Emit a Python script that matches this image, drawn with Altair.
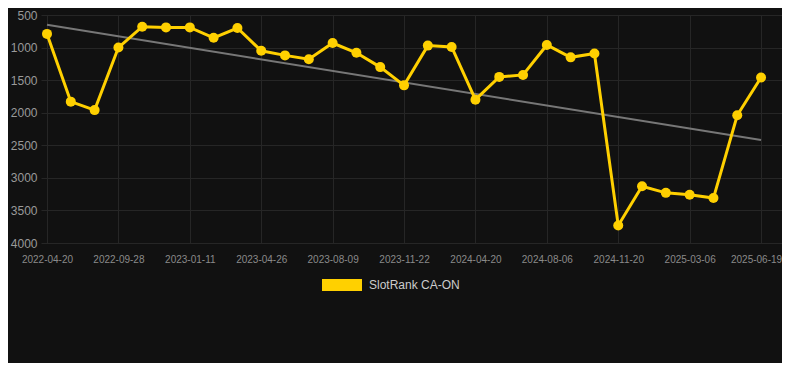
import altair as alt
import pandas as pd

TICK_LABELS = ["2022-04-20", "2022-09-28", "2023-01-11", "2023-04-26", "2023-08-09",
               "2023-11-22", "2024-04-20", "2024-08-06", "2024-11-20", "2025-03-06",
               "2025-06-19"]
RANK = [790, 1830, 1960, 1000, 680, 690, 690, 850, 700, 1050, 1120, 1180, 930, 1080,
        1300, 1580, 970, 990, 1800, 1450, 1420, 960, 1150, 1090, 3730, 3130, 3230,
        3260, 3310, 2040, 1460]
TREND = [650, 2420]
Y_TICKS = [500, 1000, 1500, 2000, 2500, 3000, 3500, 4000]
SERIES = "SlotRank CA-ON"

n = len(RANK)
df = pd.DataFrame({"idx": list(range(n)), "rank": RANK, "series": [SERIES] * n})
trend_df = pd.DataFrame({"idx": [0, n - 1], "rank": TREND})

last_tick = 3 * (len(TICK_LABELS) - 1)
label_expr = "[" + ",".join(f"'{d}'" for d in TICK_LABELS) + "][round(datum.value/3)]"

x_scale = alt.Scale(domain=[-0.252, 30.88], nice=False, zero=False)
y_scale = alt.Scale(domain=[500, 4000], reverse=True, nice=False, zero=False)

x_axis = alt.Axis(values=list(range(0, n, 3)), labelExpr=label_expr, title=None,
                  grid=True, gridColor="#262626", domain=False, ticks=False,
                  labelColor="#8a8a8a", labelFontSize=10, labelPadding=11,
                  labelFont="Liberation Sans", labelOverlap=False, tickCount=20,
                  labelOffset={"expr": f"datum.value == {last_tick} ? -5 : 0"})
y_axis = alt.Axis(values=Y_TICKS, format="d", title=None, grid=True, gridColor="#262626",
                  domain=False, ticks=False, labelColor="#9a9a9a", labelFontSize=12,
                  labelPadding=4, labelFont="Liberation Sans", labelOverlap=False,
                  tickCount=10)

trend = alt.Chart(trend_df).mark_line(color="#777777", strokeWidth=2).encode(
    x=alt.X("idx:Q", scale=x_scale, axis=x_axis),
    y=alt.Y("rank:Q", scale=y_scale, axis=y_axis),
)

color = alt.Color("series:N", scale=alt.Scale(domain=[SERIES], range=["#FFD000"]),
                  legend=alt.Legend(title=None, orient="none", legendX=281, legendY=250,
                                    symbolType="M-1,-0.3H1V0.3H-1Z", symbolSize=1600,
                                    symbolStrokeWidth=0, symbolFillColor="#FFD000",
                                    symbolOpacity=1, labelColor="#cccccc",
                                    labelFontSize=12, labelFont="Liberation Sans",
                                    labelOffset=7, padding=0))

line = alt.Chart(df).mark_line(strokeWidth=3).encode(
    x=alt.X("idx:Q", scale=x_scale, axis=x_axis),
    y=alt.Y("rank:Q", scale=y_scale, axis=y_axis),
    color=color,
)
pts = alt.Chart(df).mark_circle(size=100, opacity=1).encode(
    x=alt.X("idx:Q", scale=x_scale, axis=x_axis),
    y=alt.Y("rank:Q", scale=y_scale, axis=y_axis),
    color=alt.Color("series:N", scale=alt.Scale(domain=[SERIES], range=["#FFD000"]), legend=None),
)

chart = alt.layer(trend, line, pts).properties(
    width=741, height=228,
    background="#111111",
    padding={"left": 33, "top": 7, "right": 0, "bottom": 120},
    autosize=alt.AutoSizeParams(type="none"),
).configure_view(stroke=None)

chart.save("out.html", embed_options={"renderer": "svg", "actions": False})
